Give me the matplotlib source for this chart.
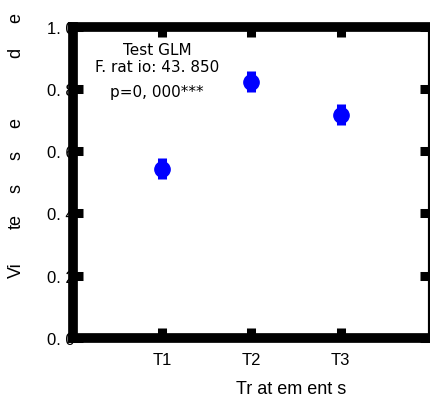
import numpy as np
import matplotlib.pyplot as plt

# moyennes par traitement et erreurs standard
traitements = ["T1", "T2", "T3"]
vitesse = [0.543, 0.823, 0.717]
erreur = [0.034, 0.034, 0.033]
yticks = [0.0, 0.2, 0.4, 0.6, 0.8, 1.0]
ytick_labels = ["0. 0", "0. 2", "0. 4", "0. 6", "0. 8", "1. 0"]
stats_lines = ["Test GLM", "F. rat io: 43. 850", "p=0, 000***"]

fig = plt.figure(figsize=(4.31, 4.02), dpi=100)
ax = fig.add_axes([73 / 431, 1 - 339 / 402, 357 / 431, 311.5 / 402])

x = np.arange(1, len(traitements) + 1)
ax.errorbar(x, vitesse, yerr=erreur, fmt="o", color="#0000ff", ms=11,
            elinewidth=6.5, capsize=0, zorder=3)

ax.set_xlim(0, 4)
ax.set_ylim(0, 1)
ax.set_xticks(x)
ax.set_xticklabels(traitements, fontfamily="Liberation Sans", fontsize=12)
ax.set_yticks(yticks)
ax.set_yticklabels(ytick_labels, fontfamily="Liberation Sans", fontsize=12)

for side in ["left", "bottom", "top"]:
    ax.spines[side].set_linewidth(7)
ax.spines["right"].set_linewidth(3)
ax.tick_params(axis="both", direction="in", length=7, width=6.5,
               top=True, right=True, color="black")
ax.tick_params(axis="y", pad=-1)
ax.tick_params(axis="x", pad=10)

# statistiques du test
for txt, ypos in zip(stats_lines, [0.925, 0.872, 0.79]):
    ax.text(0.235, ypos, txt, transform=ax.transAxes, ha="center", va="center",
            fontsize=11)

# titre de l'axe y, lettres espacees
morceaux = [("Vi", 270), ("te", 222), ("s", 189), ("s", 156), ("e", 123),
            ("d", 53), ("e", 18)]
for txt, ypix in morceaux:
    fig.text(16 / 431, 1 - ypix / 402, txt, rotation=90, ha="center",
             va="center", fontsize=13, fontfamily="Liberation Sans")

fig.text(291 / 431, 1 - 390 / 402, "Tr at em ent s", ha="center", va="center",
         fontsize=13, fontfamily="Liberation Sans")

fig.savefig("out.png", dpi=100)
